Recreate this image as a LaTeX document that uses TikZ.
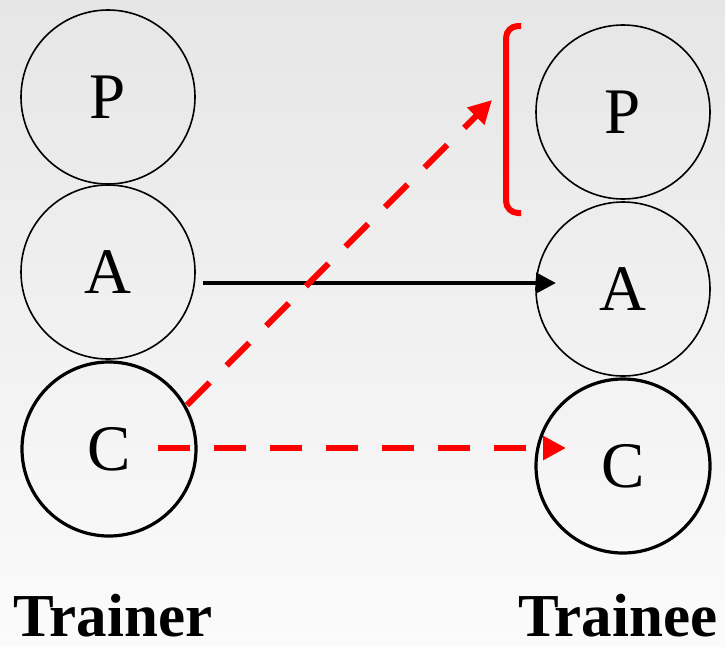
\documentclass[tikz,border=0pt]{standalone}
\usepackage{fontspec}
\setmainfont{Liberation Serif}
\usetikzlibrary{arrows.meta}
\definecolor{bgtop}{HTML}{E6E6E6}
\definecolor{bgbot}{HTML}{FBFBFB}
\begin{document}
\begin{tikzpicture}[x=1pt,y=-1pt,
  thincirc/.style={circle,draw=black,line width=1.6pt,minimum size=174pt,inner sep=0pt,font=\fontsize{65}{65}\selectfont},
  thickcirc/.style={thincirc,line width=3.2pt},
  redarrow/.style={draw=red,line width=6pt,dash pattern=on 32pt off 24pt,-{Triangle[length=23pt,width=23pt]}},
  blackarrow/.style={draw=black,line width=4.5pt,-{Triangle[length=20pt,width=20pt]}},
  lbl/.style={font=\bfseries\fontsize{61}{61}\selectfont,anchor=base,inner sep=0pt}]
\shade[top color=bgtop,bottom color=bgbot] (0,0) rectangle (725,646);
\useasboundingbox (0,0) rectangle (725,646);
% left column
\node[thincirc] (p1) at (108,97) {P};
\node[thincirc] (a1) at (108,272) {A};
\node[thickcirc] (c1) at (109,449) {C};
% right column
\node[thincirc] (p2) at (623,112) {P};
\node[thincirc] (a2) at (623,289) {A};
\node[thickcirc] (c2) at (623,466) {C};
% labels
\node[lbl] (trainer) at (113,636) {Trainer};
\node[lbl] (trainee) at (618,636) {Trainee};
% connector ends
\coordinate (bs) at (203,283);
\coordinate (be) at (556,283);
\coordinate (ds) at (187,405);
\coordinate (de) at (492,100);
\coordinate (hs) at (158,448);
\coordinate (he) at (566,448);
\draw[blackarrow] (bs) -- (be);
\draw[redarrow] (ds) -- (de);
\draw[redarrow] (hs) -- (he);
% bracket
\draw[red,line width=6pt,rounded corners=12pt] (521,26) -- (506,26) -- (506,213) -- (521,213);
\end{tikzpicture}
\end{document}
